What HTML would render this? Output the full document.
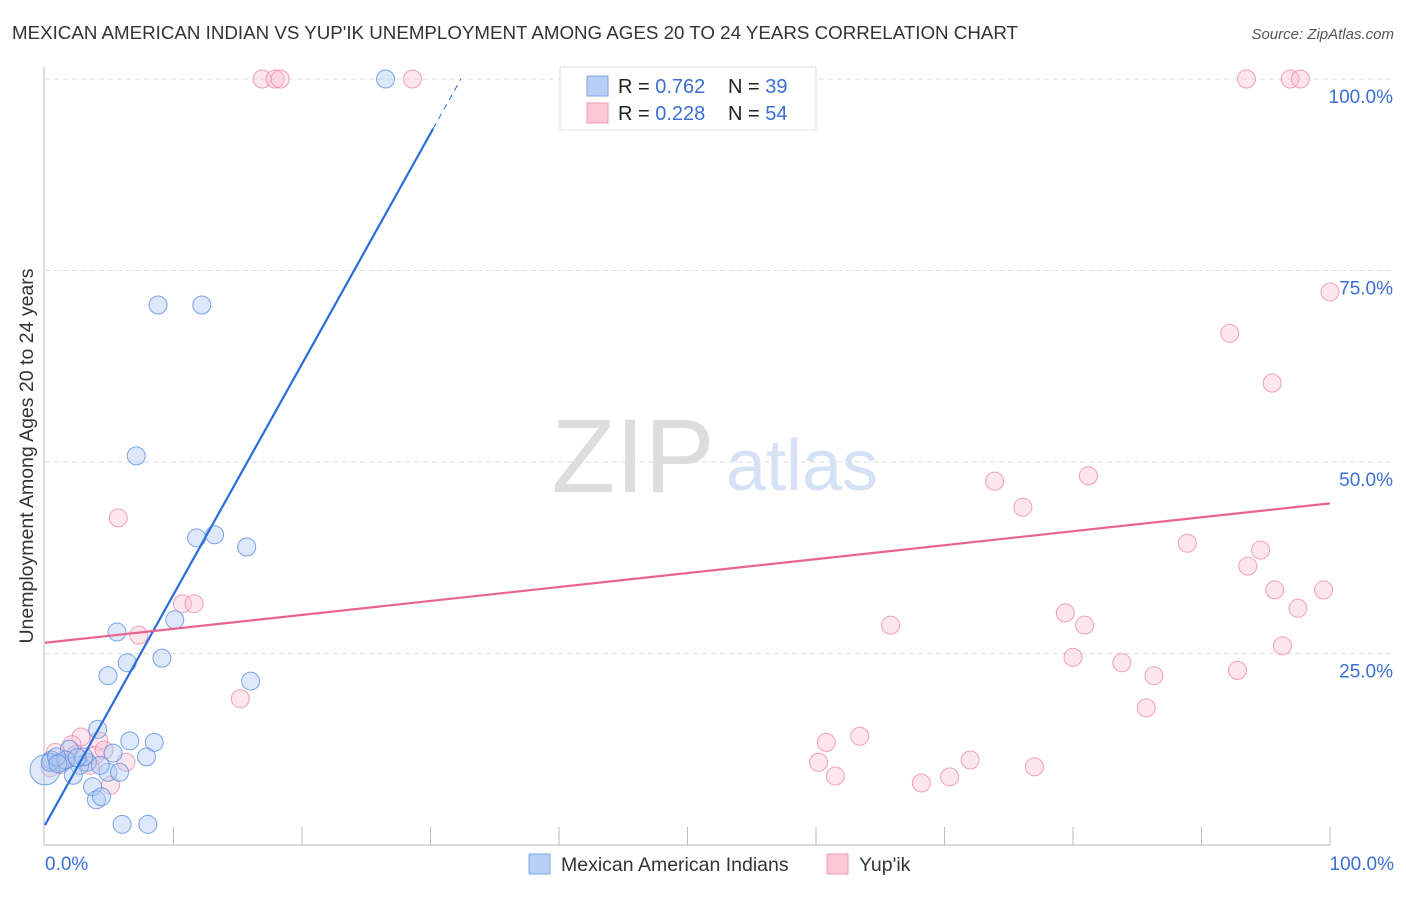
<!DOCTYPE html>
<html><head><meta charset="utf-8"><style>
body{margin:0;background:#fff;font-family:"Liberation Sans",sans-serif}
svg text{font-family:"Liberation Sans",sans-serif}
</style></head><body>
<svg id="chart" width="1406" height="892" xmlns="http://www.w3.org/2000/svg">
<text x="12" y="39" font-size="18.6" fill="#333" textLength="1006" lengthAdjust="spacingAndGlyphs">MEXICAN AMERICAN INDIAN VS YUP'IK UNEMPLOYMENT AMONG AGES 20 TO 24 YEARS CORRELATION CHART</text>
<text x="1394" y="39" font-size="15" fill="#555" font-style="italic" text-anchor="end">Source: ZipAtlas.com</text>
<text x="633" y="492" font-size="105" fill="#ddd" font-family="Liberation Serif" text-anchor="middle">ZIP</text>
<text x="802" y="490" font-size="72" fill="#d5e2f5" text-anchor="middle">atlas</text>
<g id="grid"></g>
<g id="axes"></g>
<g id="pts"></g>
<g id="lines"></g>
<text x="33" y="456" font-size="19.5" fill="#333" text-anchor="middle" transform="rotate(-90 33 456)">Unemployment Among Ages 20 to 24 years</text>
<text x="45" y="870" font-size="19" fill="#3b6fd4">0.0%</text>
<text x="1394" y="870" font-size="19" fill="#3b6fd4" text-anchor="end">100.0%</text>
<g>
<rect x="560" y="67" width="256" height="63" fill="#fff" stroke="#ddd"/>
<rect x="587" y="76" width="21" height="20" fill="#b8d0f5" stroke="#7ea5e8"/>
<rect x="587" y="103" width="21" height="20" fill="#fbc8d8" stroke="#ef9ab5"/>
<text x="618" y="93" font-size="20" fill="#222">R = <tspan fill="#3b6fd4">0.762</tspan></text>
<text x="728" y="93" font-size="20" fill="#222">N = <tspan fill="#3b6fd4">39</tspan></text>
<text x="618" y="120" font-size="20" fill="#222">R = <tspan fill="#3b6fd4">0.228</tspan></text>
<text x="728" y="120" font-size="20" fill="#222">N = <tspan fill="#3b6fd4">54</tspan></text>
</g>
<g>
<rect x="529" y="854" width="21" height="20" fill="#b8d0f5" stroke="#7ea5e8"/>
<text x="561" y="871" font-size="19.5" fill="#333">Mexican American Indians</text>
</g>
<g>
<rect x="827" y="854" width="21" height="20" fill="#fbc8d8" stroke="#ef9ab5"/>
<text x="859" y="871" font-size="19.5" fill="#333">Yup'ik</text>
</g>
</svg>
<script>
const yTicks=[25,50,75,100];
const yTickLabels=["25.0%","50.0%","75.0%","100.0%"];
const blueX=[26.5,8.8,12.2,7.1,11.8,13.2,15.7,5.6,10.1,6.4,9.1,4.9,16.0,4.1,6.6,8.5,5.3,7.9,1.9,0.5,1.2,3.3,2.7,4.9,5.8,2.2,3.7,4.0,4.4,6.0,8.0,0,0.4,1.6,4.3,3.0,2.5,0.9,1.0];
const blueY=[100,70.5,70.5,50.8,40.1,40.5,38.9,27.8,29.4,23.8,24.4,22.1,21.4,15.1,13.6,13.4,12.0,11.5,12.5,11.1,10.8,10.8,10.4,9.5,9.5,9.1,7.6,5.9,6.3,2.7,2.7,9.8,10.8,11.1,10.4,11.5,11.4,11.5,10.6];
const pinkX=[16.9,17.9,18.3,28.6,93.5,96.9,97.7,100,92.2,95.5,73.9,81.2,76.1,88.9,94.6,93.6,95.7,99.5,97.5,79.4,80.9,65.8,96.3,80.0,83.8,92.8,86.3,85.7,5.7,10.7,11.6,7.3,15.2,60.8,63.4,60.2,61.5,72.0,70.4,68.2,77.0,2.8,4.2,6.3,5.1,3.9,0.8,1.6,3.5,0.4,2.1,1.2,2.4,4.6];
const pinkY=[100,100,100,100,100,100,100,72.2,66.8,60.3,47.5,48.2,44.1,39.4,38.5,36.4,33.3,33.3,30.9,30.3,28.7,28.7,26.0,24.5,23.8,22.8,22.1,17.9,42.7,31.5,31.5,27.4,19.1,13.4,14.2,10.8,9.0,11.1,8.9,8.1,10.2,14.1,13.6,10.8,7.8,11.7,12.1,11.1,10.4,10.1,13.1,10.5,11.8,12.4];
const blueLine=[2.6,3.01];
const pinkLine=[26.4,0.182];
const NS="http://www.w3.org/2000/svg";
const X=v=>45+v*12.85, Y=v=>845-v*7.66;
function mk(t,a,p){const e=document.createElementNS(NS,t);for(const k in a)e.setAttribute(k,a[k]);document.getElementById(p).appendChild(e);return e;}
yTicks.forEach((t,i)=>{
 const g=mk('line',{x1:45,x2:1394,y1:Y(t),y2:Y(t),stroke:'#ddd','stroke-dasharray':'5,4'},'grid');
 
 
 const l=mk('text',{x:1393,y:Y(t)+24,'font-size':19,fill:'#3b6fd4','text-anchor':'end'},'grid');
 l.textContent=yTickLabels[i];
 
 
});
const ax=mk('line',{x1:44,x2:44,y1:67,y2:845,stroke:'#bbb'},'axes');


const bx=mk('line',{x1:44,x2:1330,y1:845,y2:845,stroke:'#bbb'},'axes');


for(let i=1;i<=10;i++){const t=mk('line',{x1:X(i*10),x2:X(i*10),y1:827,y2:845,stroke:'#bbb'},'axes');
 
 }
function pts(xs,ys,fill,stroke,name){xs.forEach((x,i)=>{const c=mk('circle',{cx:X(x),cy:Y(ys[i]),r:(x===0?15:9),fill:fill,'fill-opacity':0.4,stroke:stroke,'stroke-opacity':0.8,'stroke-width':1},'pts');
 
 });}
pts(pinkX,pinkY,'#fbc0d2','#ec8aaa','yupik-point');
pts(blueX,blueY,'#aac8f2','#5b8ee0','mexican-american-indian-point');
const xe=30.2, xd=(100-blueLine[0])/blueLine[1];
const b1=mk('line',{x1:X(0),y1:Y(blueLine[0]),x2:X(xe),y2:Y(blueLine[0]+blueLine[1]*xe),stroke:'#2a6dd9','stroke-width':2.2},'lines');


const b2=mk('line',{x1:X(xe),y1:Y(blueLine[0]+blueLine[1]*xe),x2:X(xd),y2:Y(100),stroke:'#2a6dd9','stroke-width':1,'stroke-dasharray':'6,5'},'lines');


const p1=mk('line',{x1:X(0),y1:Y(pinkLine[0]),x2:X(100),y2:Y(pinkLine[0]+pinkLine[1]*100),stroke:'#e8638f','stroke-width':2.2},'lines');


</script>
</body></html>
